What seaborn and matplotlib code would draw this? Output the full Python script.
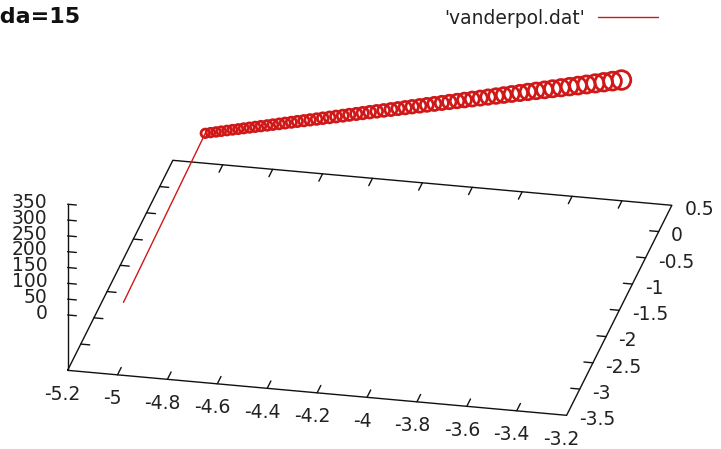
import matplotlib
matplotlib.use("Agg")
import matplotlib.pyplot as plt
import seaborn as sns
from matplotlib.lines import Line2D

sns.set_theme(style="white")
plt.rcParams["font.family"] = ["DejaVu Sans"]

# ---- axis ticks -------------------------------------------------------
x_ticks = [-5.2, -5.0, -4.8, -4.6, -4.4, -4.2, -4.0, -3.8, -3.6, -3.4, -3.2]
x_labels = ["-5.2", "-5", "-4.8", "-4.6", "-4.4", "-4.2", "-4", "-3.8", "-3.6", "-3.4", "-3.2"]
y_ticks = [-3.5, -3.0, -2.5, -2.0, -1.5, -1.0, -0.5, 0.0, 0.5]
y_labels = ["-3.5", "-3", "-2.5", "-2", "-1.5", "-1", "-0.5", "0", "0.5"]
z_ticks = [0, 50, 100, 150, 200, 250, 300, 350]
z_labels = ["0", "50", "100", "150", "200", "250", "300", "350"]

# ---- trajectory: initial transient ------------------------------------
trans_x = [-5.010, -5.012]
trans_y = [-3.18, -0.05]
trans_z = [0.0, 15.0]

# ---- trajectory: loops of the oscillation (centre and amplitude) -------
loop_x = [-5.012, -4.991, -4.969, -4.948, -4.925, -4.903, -4.880, -4.858, -4.835, -4.812,
          -4.789, -4.764, -4.741, -4.716, -4.692, -4.667, -4.643, -4.617, -4.592, -4.566,
          -4.541, -4.514, -4.488, -4.461, -4.435, -4.407, -4.381, -4.353, -4.325, -4.297,
          -4.268, -4.240, -4.211, -4.183, -4.153, -4.124, -4.094, -4.064, -4.034, -4.003,
          -3.973, -3.942, -3.910, -3.879, -3.847, -3.816, -3.784, -3.751, -3.719, -3.686,
          -3.652, -3.620, -3.586, -3.552, -3.518, -3.484, -3.449, -3.415, -3.380, -3.344]
loop_y = [-0.05, -0.05, -0.05, -0.05, -0.05, -0.05, -0.05, -0.05, -0.05, -0.05,
          -0.05, -0.05, -0.05, -0.05, -0.05, -0.05, -0.05, -0.05, -0.05, -0.05,
          -0.05, -0.05, -0.05, -0.05, -0.05, -0.05, -0.05, -0.05, -0.05, -0.05,
          -0.05, -0.05, -0.05, -0.05, -0.05, -0.05, -0.05, -0.05, -0.05, -0.05,
          -0.05, -0.05, -0.05, -0.05, -0.05, -0.05, -0.05, -0.05, -0.05, -0.05,
          -0.05, -0.05, -0.05, -0.05, -0.05, -0.05, -0.05, -0.05, -0.05, -0.05]
loop_z = [15.0, 18.7, 22.4, 26.2, 30.0, 33.9, 37.7, 41.7, 45.6, 49.6,
          53.6, 57.6, 61.7, 65.9, 70.1, 74.4, 78.7, 83.0, 87.4, 91.7,
          96.2, 100.7, 105.3, 109.9, 114.5, 119.2, 123.8, 128.7, 133.4, 138.2,
          143.1, 148.0, 153.0, 158.0, 163.0, 168.1, 173.2, 178.4, 183.6, 188.8,
          194.1, 199.4, 204.7, 210.1, 215.6, 221.0, 226.6, 232.2, 237.8, 243.4,
          249.1, 254.8, 260.5, 266.3, 272.1, 278.0, 284.0, 290.0, 296.0, 302.0]
loop_amp = [26.8, 27.1, 27.5, 27.8, 28.1, 28.5, 28.9, 29.3, 29.6, 29.9,
            30.3, 30.6, 31.0, 31.4, 31.8, 32.1, 32.4, 32.8, 33.1, 33.6,
            33.9, 34.2, 34.6, 34.9, 35.3, 35.6, 36.0, 36.7, 37.1, 37.4,
            38.2, 38.5, 39.2, 39.6, 40.2, 40.7, 41.4, 41.7, 42.4, 42.8,
            43.5, 44.2, 44.5, 45.3, 46.0, 46.7, 47.5, 48.1, 48.8, 49.5,
            50.3, 51.0, 51.6, 52.4, 53.1, 53.8, 54.6, 55.3, 56.3, 58.9]

# ---- figure / view ------------------------------------------------------
W, H, DPI = 721, 449, 100
fig = plt.figure(figsize=(W / DPI, H / DPI), dpi=DPI)
fig.patch.set_facecolor("white")

side = 720.0           # square drawing area of the 3D axes (px)
cx, cy = 360.0, 214.5  # centre of that area (px from top-left)
ax = fig.add_axes([(cx - side / 2) / W, (H - cy - side / 2) / H, side / W, side / H],
                  projection="3d", proj_type="ortho")
ax.set_axis_off()
ax.view_init(elev=25.1, azim=-78)
ax.set_box_aspect((509, 505, 183), zoom=1.0)

x_lo, x_hi = x_ticks[0], x_ticks[-1]
y_lo, y_hi = y_ticks[0], y_ticks[-1]
z_lo, z_hi = z_ticks[0], z_ticks[-1]
z_base = z_lo - 0.5 * (z_hi - z_lo)   # base plane sits below the z range
ax.set_xlim(x_lo, x_hi)
ax.set_ylim(y_lo, y_hi)
ax.set_zlim(z_base, z_hi)

ink = "#111111"
lab = "#222222"
fs = 13.5
red = "#d01818"

# base plane border
ax.plot([x_lo, x_hi, x_hi, x_lo, x_lo], [y_lo, y_lo, y_hi, y_hi, y_lo],
        [z_base] * 5, color=ink, lw=1.0)
# vertical z axis
ax.plot([x_lo, x_lo], [y_lo, y_lo], [z_base, z_hi], color=ink, lw=1.0)

# x ticks (front and back edges)
tx = 0.14
for xt, s in zip(x_ticks, x_labels):
    if x_lo < xt < x_hi:
        ax.plot([xt, xt], [y_lo, y_lo + tx], [z_base, z_base], color=ink, lw=1.0)
        ax.plot([xt, xt], [y_hi, y_hi - tx], [z_base, z_base], color=ink, lw=1.0)
    ax.text(xt - 0.02, y_lo, z_base - 47, s, ha="center", va="top",
            fontsize=fs, color=lab)

# y ticks (right and left edges)
ty = 0.036
for yt, s in zip(y_ticks, y_labels):
    if y_lo < yt < y_hi:
        ax.plot([x_hi, x_hi - ty], [yt, yt], [z_base, z_base], color=ink, lw=1.0)
        ax.plot([x_lo, x_lo + ty], [yt, yt], [z_base, z_base], color=ink, lw=1.0)
    ax.text(x_hi + 0.05, yt, z_base - 10, s, ha="left", va="center",
            fontsize=fs, color=lab)

# z ticks
tz = 0.035
for zt, s in zip(z_ticks, z_labels):
    ax.plot([x_lo, x_lo + tz], [y_lo, y_lo], [zt, zt], color=ink, lw=1.0)
    ax.text(x_lo - 0.08, y_lo, zt, s, ha="right", va="center",
            fontsize=fs, color=lab)

# trajectory
ax.plot(trans_x, trans_y, trans_z, color=red, lw=1.0)
px_per_z = 0.317
sizes = [(a * px_per_z * 72 / DPI) ** 2 for a in loop_amp]
ax.scatter(loop_x, loop_y, loop_z, s=sizes, facecolors="none", edgecolors=red,
           linewidths=2.0, depthshade=False)

# legend
handle = Line2D([], [], color=red, lw=1.0)
fig.legend([handle], ["'vanderpol.dat'"], loc="upper right",
           bbox_to_anchor=(658 / W, 1 - 9 / H), frameon=False, markerfirst=False,
           handlelength=3.2, handletextpad=0.7, borderpad=0, borderaxespad=0,
           fontsize=fs, labelcolor=lab)

fig.text(80 / W, 1 - 17 / H, "lambda=15", ha="right", va="center",
         fontsize=16, fontweight="bold", color="#111111")

fig.savefig("out.png", dpi=DPI, facecolor="white")
